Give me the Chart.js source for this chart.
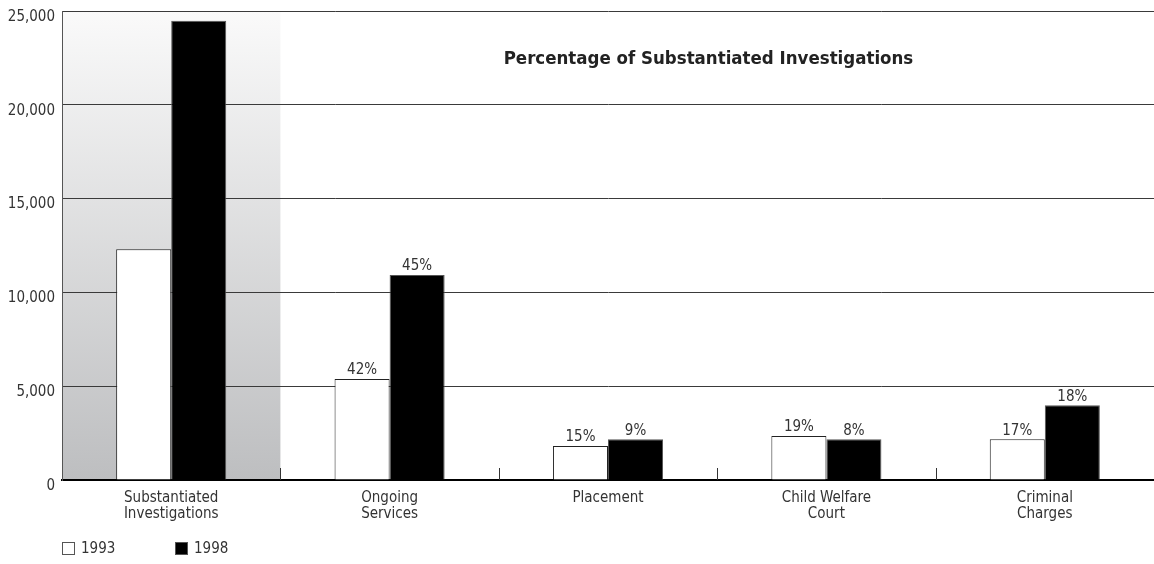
<!DOCTYPE html>
<html>
<head>
<meta charset="utf-8">
<script src="https://cdn.jsdelivr.net/npm/chart.js@4.4.1/dist/chart.umd.min.js"></script>
<style>
  html, body { margin: 0; padding: 0; background: #fff; }
  #wrap { width: 1154px; height: 564px; }
</style>
</head>
<body>
<div id="wrap"><canvas id="bar-chart"></canvas></div>
<script>
const categories = [
  ["Substantiated", "Investigations"],
  ["Ongoing", "Services"],
  "Placement",
  ["Child Welfare", "Court"],
  ["Criminal", "Charges"],
];
const years = ["1993", "1998"];
const values1993 = [12300, 5380, 1810, 2345, 2170];
const values1998 = [24480, 10930, 2170, 2170, 3980];
const percent1993 = ["", "42%", "15%", "19%", "17%"];
const percent1998 = ["", "45%", "9%", "8%", "18%"];
const yTicks = [0, 5000, 10000, 15000, 20000, 25000];
const chartTitle = "Percentage of Substantiated Investigations";

const FONT = "'Liberation Sans Narrow', 'DejaVu Sans Condensed', Arial, sans-serif";
const TEXT = "#333";

// grey fade behind the first category, under the grid lines
const shadePlugin = {
  id: "shade",
  beforeDraw(chart) {
    const { ctx, chartArea, scales } = chart;
    const x = scales.x;
    const right = (x.getPixelForTick(0) + x.getPixelForTick(1)) / 2;
    const grad = ctx.createLinearGradient(0, chartArea.top, 0, chartArea.bottom);
    grad.addColorStop(0, "#fafafa");
    grad.addColorStop(1, "#bdbec0");
    ctx.save();
    ctx.fillStyle = grad;
    ctx.fillRect(chartArea.left, chartArea.top, right - chartArea.left, chartArea.bottom - chartArea.top);
    ctx.restore();
  },
};

const labelsPlugin = {
  id: "barLabels",
  afterDatasetsDraw(chart) {
    const { ctx, chartArea, scales } = chart;
    const x = scales.x;
    ctx.save();

    // small ticks between the categories, standing on the base line
    ctx.strokeStyle = "#333";
    ctx.lineWidth = 1;
    for (let i = 1; i < categories.length; i++) {
      const bx = Math.round((x.getPixelForTick(i - 1) + x.getPixelForTick(i)) / 2) + 0.5;
      ctx.beginPath();
      ctx.moveTo(bx, chartArea.bottom - 12);
      ctx.lineTo(bx, chartArea.bottom);
      ctx.stroke();
    }

    // percentages over the bars
    const percents = [percent1993, percent1998];
    ctx.font = "15px " + FONT;
    ctx.fillStyle = TEXT;
    ctx.textAlign = "center";
    ctx.textBaseline = "bottom";
    chart.data.datasets.forEach((ds, d) => {
      chart.getDatasetMeta(d).data.forEach((bar, i) => {
        if (percents[d][i]) ctx.fillText(percents[d][i], bar.x, bar.y - 1);
      });
    });

    // heading inside the plot
    ctx.font = "bold 18.5px " + FONT;
    ctx.fillStyle = "#222";
    ctx.textBaseline = "middle";
    ctx.fillText(chartTitle, chartArea.left + chartArea.width * 0.592, chartArea.top + 48);
    ctx.restore();
  },
  afterDraw(chart) {
    // legend, bottom left
    const { ctx, chartArea } = chart;
    const y = chart.height - 15;
    let lx = chartArea.left;
    ctx.save();
    ctx.font = "15px " + FONT;
    ctx.textBaseline = "middle";
    ctx.textAlign = "left";
    chart.data.datasets.forEach((ds) => {
      ctx.fillStyle = ds.backgroundColor;
      ctx.fillRect(lx, y - 7, 13, 13);
      ctx.strokeStyle = "#555";
      ctx.lineWidth = 1;
      ctx.strokeRect(lx + 0.5, y - 6.5, 12, 12);
      ctx.fillStyle = TEXT;
      ctx.fillText(ds.label, lx + 19, y);
      lx += 113;
    });
    ctx.restore();
  },
};

new Chart(document.getElementById("bar-chart"), {
  type: "bar",
  data: {
    labels: categories,
    datasets: [
      {
        label: years[0],
        data: values1993,
        backgroundColor: "#ffffff",
        borderColor: "#222",
        borderWidth: 1,
      },
      {
        label: years[1],
        data: values1998,
        backgroundColor: "#000000",
        borderColor: "#555",
        borderWidth: 1,
      },
    ],
  },
  options: {
    responsive: true,
    maintainAspectRatio: false,
    animation: false,
    layout: { padding: { top: 11, right: 0, bottom: 40, left: 0 } },
    datasets: {
      bar: { categoryPercentage: 0.504, barPercentage: 1.0 },
    },
    plugins: {
      legend: { display: false },
      tooltip: { enabled: false },
    },
    scales: {
      x: {
        grid: { display: false, drawTicks: false },
        border: { display: true, color: "#000", width: 2 },
        ticks: {
          color: TEXT,
          font: { family: FONT, size: 15, lineHeight: 1.05 },
          padding: 10,
          maxRotation: 0,
        },
        afterFit(axis) {
          axis.height = 44;
        },
      },
      y: {
        min: 0,
        max: 25000,
        afterBuildTicks(axis) {
          axis.ticks = yTicks.map((v) => ({ value: v }));
        },
        grid: { color: "#3a3a3a", lineWidth: 1, drawTicks: false },
        border: { display: true, color: "#555", width: 1 },
        ticks: {
          color: TEXT,
          font: { family: FONT, size: 15 },
          padding: 7,
          labelOffset: 6,
          callback: (v) => v.toLocaleString("en-US"),
        },
        afterFit(axis) {
          axis.width = 62;
          axis.paddingTop = 0;
          axis.paddingBottom = 0;
        },
      },
    },
  },
  plugins: [shadePlugin, labelsPlugin],
});
</script>
</body>
</html>
